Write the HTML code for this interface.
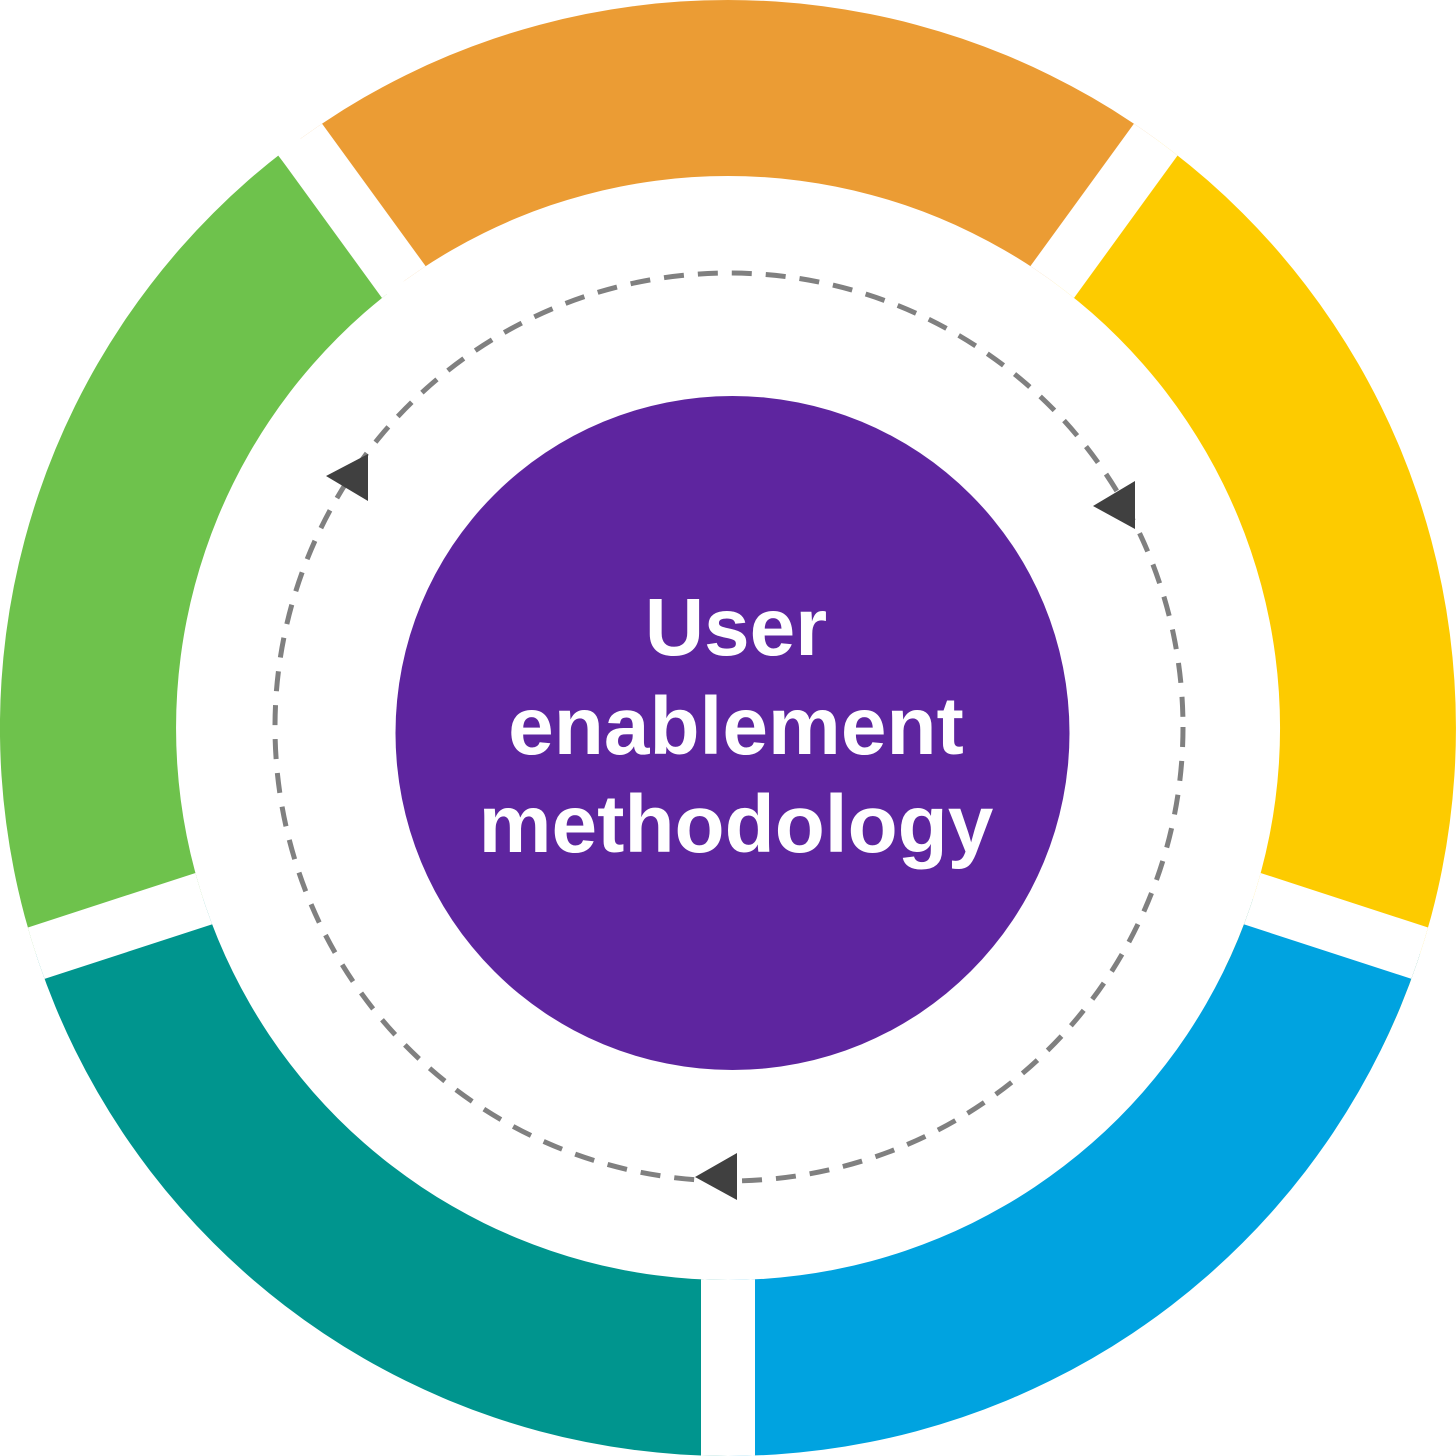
<!DOCTYPE html>
<html><head><meta charset="utf-8"><style>
html,body{margin:0;padding:0;background:#fff;width:1456px;height:1456px;overflow:hidden}
svg{display:block;overflow:hidden}
</style></head><body>
<svg width="1456" height="1456" viewBox="0 0 1456 1456" xmlns="http://www.w3.org/2000/svg">
<defs>
<clipPath id="ring"><path fill-rule="evenodd" d="M728,0 A728,728 0 1 1 727.9,0 Z M728,176 A552,552 0 1 0 728.1,176 Z"/></clipPath>
</defs>
<g clip-path="url(#ring)">
  <path d="M728,728 L1300,-60 L156,-60 Z" fill="#EB9C34"/>
  <path d="M728,728 L1300,-60 L1456,-60 L1456,1080 Z" fill="#FDCB00"/>
  <path d="M728,728 L1456,965 L1456,1456 L728,1456 Z" fill="#00A3E0"/>
  <path d="M728,728 L728,1456 L0,1456 L0,965 Z" fill="#00958E"/>
  <path d="M728,728 L0,965 L0,0 L156,0 Z" fill="#6EC24C"/>
  <g stroke="#fff" stroke-width="54">
    <line x1="728" y1="728" x2="1170" y2="120"/>
    <line x1="728" y1="728" x2="1456" y2="965"/>
    <line x1="728" y1="728" x2="728" y2="1456"/>
    <line x1="728" y1="728" x2="0" y2="965"/>
    <line x1="728" y1="728" x2="286" y2="120"/>
  </g>
</g>
<circle cx="729" cy="727" r="454" fill="none" stroke="#808080" stroke-width="5" stroke-dasharray="20 14"/>
<g fill="#404040">
  <polygon points="368,454 368,501 326,476"/>
  <polygon points="1135,481 1135,529 1093,506"/>
  <polygon points="737,1153 737,1200 695,1177"/>
</g>
<circle cx="732.5" cy="733" r="337" fill="#5E259F"/>
<g fill="#fff" font-family="Liberation Sans, Arial, sans-serif" font-weight="bold" font-size="82" text-anchor="middle">
  <text x="736" y="655">User</text>
  <text x="736" y="754">enablement</text>
  <text x="736" y="852">methodology</text>
</g>
</svg>
</body></html>
